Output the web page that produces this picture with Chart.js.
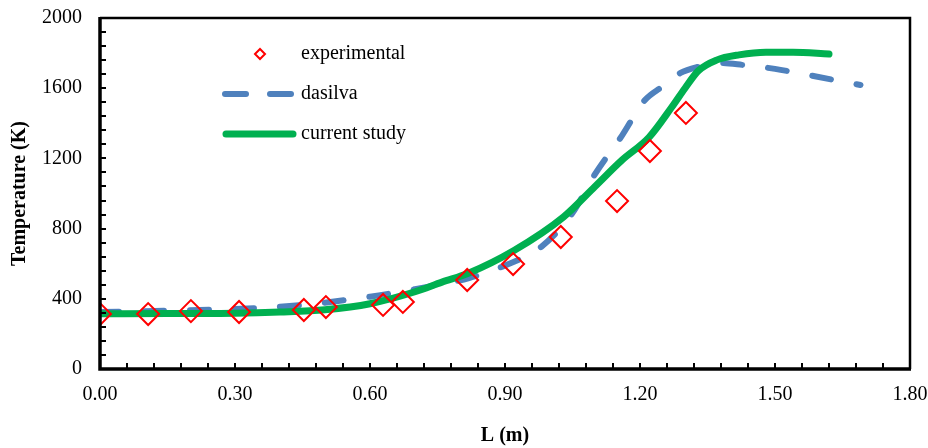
<!DOCTYPE html>
<html>
<head>
<meta charset="utf-8">
<script src="https://cdn.jsdelivr.net/npm/chart.js@4/dist/chart.umd.min.js"></script>
<style>
  html, body { margin: 0; padding: 0; background: #fff; }
  #wrap { width: 928px; height: 448px; }
</style>
</head>
<body>
<div id="wrap"><canvas id="tempChart" width="928" height="448"></canvas></div>
<script>
// experimental points
const expX = [0.00, 0.107, 0.202, 0.309, 0.453, 0.502, 0.629, 0.673, 0.816, 0.918, 1.024, 1.149, 1.222, 1.302];
const expY = [313, 313, 330, 325, 336, 353, 365, 382, 507, 598, 752, 957, 1242, 1459];

// da Silva curve
const dasX = [0.00, 0.15, 0.30, 0.45, 0.60, 0.70, 0.76, 0.82, 0.90, 0.98, 1.05, 1.10, 1.16, 1.21, 1.25, 1.29, 1.33, 1.38, 1.43, 1.50, 1.58, 1.69];
const dasY = [325, 332, 342, 365, 412, 455, 485, 518, 590, 695, 889, 1110, 1330, 1530, 1610, 1687, 1722, 1744, 1732, 1710, 1672, 1618];

// current study curve
const curX = [0.00, 0.15, 0.30, 0.40, 0.50, 0.60, 0.70, 0.76, 0.82, 0.92, 1.03, 1.10, 1.16, 1.22, 1.27, 1.30, 1.33, 1.37, 1.42, 1.48, 1.54, 1.62];
const curY = [315, 316, 318, 325, 338, 372, 440, 495, 547, 675, 866, 1040, 1190, 1320, 1490, 1600, 1700, 1760, 1790, 1805, 1805, 1795];

const xTicks = [0.00, 0.30, 0.60, 0.90, 1.20, 1.50, 1.80];
const yTicks = [0, 400, 800, 1200, 1600, 2000];

const FONT = "'Liberation Serif', 'Times New Roman', serif";
const RED = "#ff0000", BLUE = "#4f81bd", GREEN = "#00b050";

const pts = (xs, ys) => xs.map((x, i) => ({ x: x, y: ys[i] }));

// keep the plot box where the reference has it
function noPad(s) {
  s.paddingLeft = 0; s.paddingRight = 0; s.paddingTop = 0; s.paddingBottom = 0;
}

// frame, inward ticks and legend
const framePlugin = {
  id: "frame",
  afterDraw(chart) {
    const ctx = chart.ctx;
    const a = chart.chartArea;
    const xs = chart.scales.x, ys = chart.scales.y;
    ctx.save();
    ctx.strokeStyle = "#000";
    ctx.lineWidth = 2;
    // minor + major ticks
    for (let v = 0; v <= 1.8001; v += 0.06) {
      const px = Math.round(xs.getPixelForValue(v));
      ctx.beginPath(); ctx.moveTo(px, a.bottom); ctx.lineTo(px, a.bottom - 6); ctx.stroke();
    }
    for (let v = 0; v <= 2000; v += 80) {
      const py = Math.round(ys.getPixelForValue(v));
      ctx.beginPath(); ctx.moveTo(a.left, py); ctx.lineTo(a.left + 6, py); ctx.stroke();
    }
    // box
    ctx.lineWidth = 2.5;
    ctx.beginPath();
    ctx.moveTo(a.left, a.top); ctx.lineTo(a.right, a.top); ctx.lineTo(a.right, a.bottom);
    ctx.stroke();
    ctx.lineWidth = 3.5;
    ctx.beginPath();
    ctx.moveTo(a.left, a.top - 1); ctx.lineTo(a.left, a.bottom); ctx.lineTo(a.right + 1, a.bottom);
    ctx.stroke();

    // legend
    const lx = a.left + 123, tx = a.left + 201;
    ctx.font = "20px " + FONT;
    ctx.fillStyle = "#000";
    ctx.textBaseline = "middle";
    ctx.fillText("experimental", tx, a.top + 36);
    ctx.fillText("dasilva", tx, a.top + 76);
    ctx.fillText("current study", tx, a.top + 116);

    ctx.strokeStyle = RED; ctx.lineWidth = 2;
    const mx = a.left + 160, my = a.top + 36;
    ctx.beginPath();
    ctx.moveTo(mx - 5, my); ctx.lineTo(mx, my - 5); ctx.lineTo(mx + 5, my); ctx.lineTo(mx, my + 5); ctx.closePath();
    ctx.stroke();

    ctx.lineCap = "round";
    ctx.strokeStyle = BLUE; ctx.lineWidth = 6;
    ctx.beginPath(); ctx.moveTo(lx + 2, a.top + 76); ctx.lineTo(lx + 23, a.top + 76); ctx.stroke();
    ctx.beginPath(); ctx.moveTo(lx + 47, a.top + 76); ctx.lineTo(lx + 68, a.top + 76); ctx.stroke();
    ctx.strokeStyle = GREEN; ctx.lineWidth = 7;
    ctx.beginPath(); ctx.moveTo(lx + 3, a.top + 116); ctx.lineTo(lx + 70, a.top + 116); ctx.stroke();
    ctx.restore();
  }
};

new Chart(document.getElementById("tempChart"), {
  type: "line",
  data: {
    datasets: [
      {
        label: "experimental",
        data: pts(expX, expY),
        showLine: false,
        pointStyle: "rectRot",
        pointRadius: 11,
        pointBorderWidth: 2,
        pointBorderColor: RED,
        pointBackgroundColor: "rgba(0,0,0,0)",
        order: 0
      },
      {
        label: "current study",
        data: pts(curX, curY),
        borderColor: GREEN,
        borderWidth: 7,
        pointRadius: 0,
        cubicInterpolationMode: "monotone",
        borderCapStyle: "round",
        borderJoinStyle: "round",
        order: 1
      },
      {
        label: "dasilva",
        data: pts(dasX, dasY),
        borderColor: BLUE,
        borderWidth: 6,
        borderDash: [19, 26],
        borderCapStyle: "round",
        pointRadius: 0,
        cubicInterpolationMode: "monotone",
        order: 2
      }
    ]
  },
  options: {
    responsive: false,
    animation: false,
    layout: { padding: { top: 18, right: 18, left: 0, bottom: 0 } },
    plugins: { legend: { display: false }, tooltip: { enabled: false } },
    scales: {
      x: {
        type: "linear",
        min: 0, max: 1.8,
        afterFit: s => { s.height = 79; noPad(s); },
        afterBuildTicks: s => { s.ticks = xTicks.map(v => ({ value: v })); },
        grid: { display: false, drawTicks: false },
        border: { display: false },
        ticks: { padding: 14, color: "#000", font: { family: FONT, size: 20 }, maxRotation: 0,
                 callback: v => Number(v).toFixed(2) },
        title: { display: true, text: "L (m)", color: "#000", padding: { top: 0, bottom: 0 },
                 font: { family: FONT, size: 20, weight: "bold" } }
      },
      y: {
        min: 0, max: 2000,
        afterFit: s => { s.width = 100; noPad(s); },
        afterBuildTicks: s => { s.ticks = yTicks.map(v => ({ value: v })); },
        grid: { display: false, drawTicks: false },
        border: { display: false },
        ticks: { padding: 18, color: "#000", font: { family: FONT, size: 20 },
                 callback: v => String(v) },
        title: { display: true, text: "Temperature (K)", color: "#000", padding: { top: 8, bottom: 0 },
                 font: { family: FONT, size: 20, weight: "bold" } }
      }
    }
  },
  plugins: [framePlugin]
});
</script>
</body>
</html>
